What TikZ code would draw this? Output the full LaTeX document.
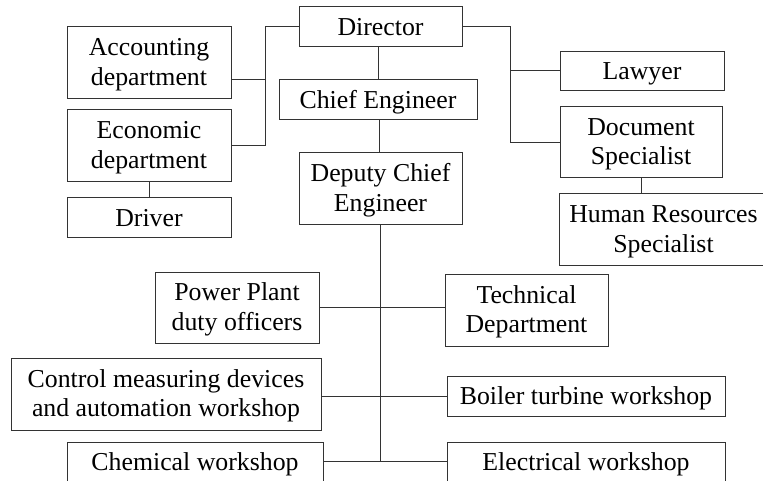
\documentclass[tikz,border=0pt]{standalone}
\usepackage{fontspec}
\setmainfont{Liberation Serif}
% fixed first-line height and last-line depth, so every label sits alike
\newcommand\oneline[1]{\rule[-7pt]{0pt}{31pt}#1}
\newcommand\twoline[2]{\rule{0pt}{22.5pt}#1\\#2\rule[-7pt]{0pt}{0pt}}
\begin{document}
\begin{tikzpicture}[x=1pt,y=-1pt,
  orgbox/.style 2 args={draw=black!80, line width=1pt, fill=white, inner sep=0pt,
    align=center, minimum width=#1pt, minimum height=#2pt,
    font=\fontsize{25.8}{29.5}\selectfont},
  link/.style={draw=black!80, line width=1pt}]
\useasboundingbox (0,0) rectangle (763,481);

% management
\node[orgbox={163}{40}] (dir)   at (380.5,27)  {\oneline{Director}};
\node[orgbox={198}{40}] (chief) at (378,100)   {\oneline{Chief Engineer}};
\node[orgbox={163}{72}] (dep)   at (380.5,189) {\twoline{Deputy Chief}{Engineer}};

% left branch
\node[orgbox={164}{72}] (acc) at (149,63)  {\twoline{Accounting}{department}};
\node[orgbox={164}{72}] (eco) at (149,146) {\twoline{Economic}{department}};
\node[orgbox={164}{40}] (drv) at (149,218) {\oneline{Driver}};

% right branch
\node[orgbox={164}{39}] (law) at (642,71.5)    {\oneline{Lawyer}};
\node[orgbox={162}{71}] (doc) at (641,142.5)   {\twoline{Document}{Specialist}};
\node[orgbox={209}{71}] (hr)  at (663.5,229.5) {\twoline{Human Resources}{Specialist}};

% workshops and departments
\node[orgbox={164}{71}] (pp)   at (237,307.5) {\twoline{Power Plant}{duty officers}};
\node[orgbox={163}{72}] (tech) at (526.5,310)  {\twoline{Technical}{Department}};
\node[orgbox={310}{72}] (ctrl) at (166,394)    {\twoline{Control measuring devices}{and automation workshop}};
\node[orgbox={278}{40}] (boil) at (586,396)    {\oneline{Boiler turbine workshop}};
\node[orgbox={256}{40}] (chem) at (195,462)    {\oneline{Chemical workshop}};
\node[orgbox={278}{40}] (elec) at (586,462)    {\oneline{Electrical workshop}};

% bus points
\coordinate (lbus) at (265,80);
\coordinate (rbus) at (510,71);
\coordinate (spine) at (380.5,461);

% connectors
\draw[link] (dir.west) -| (265,146) -- (eco.east |- 0,146);
\draw[link] (acc.east |- lbus) -- (lbus);
\draw[link] (dir.east) -| (510,143) -- (doc.west |- 0,143);
\draw[link] (rbus) -- (law.west |- rbus);
\draw[link] (dir.south -| 378,0) -- (chief.north -| 378,0);
\draw[link] (chief.south -| 379,0) -- (dep.north -| 379,0);
\draw[link] (eco.south) -- (drv.north);
\draw[link] (doc.south) -- (hr.north -| doc.south);
\draw[link] (dep.south) -- (spine);
\draw[link] (pp.east |- 0,307) -- (tech.west |- 0,307);
\draw[link] (ctrl.east |- 0,396) -- (boil.west);
\draw[link] (chem.east |- spine) -- (elec.west |- spine);
\end{tikzpicture}
\end{document}
